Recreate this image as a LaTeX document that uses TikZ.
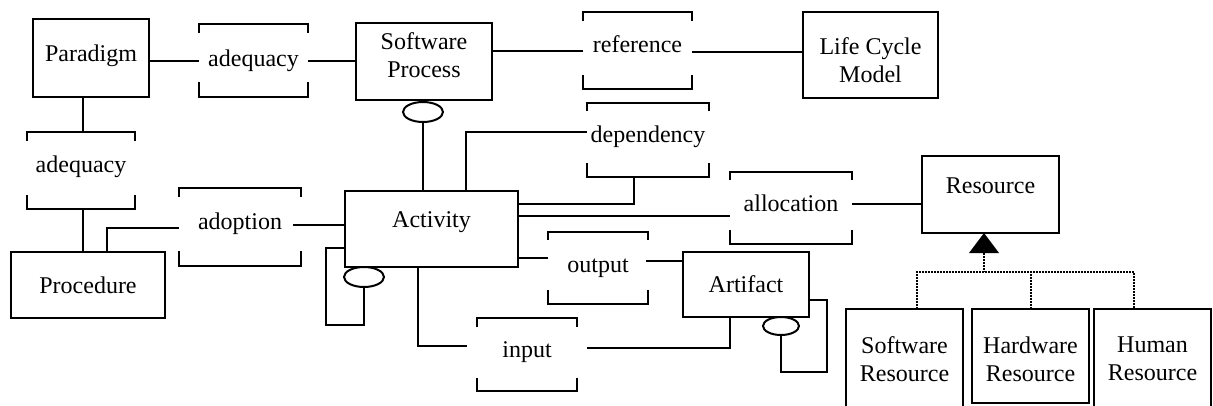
\documentclass[tikz,border=0pt]{standalone}
\usepackage{fontspec}
\setmainfont{Liberation Serif}
\usetikzlibrary{shapes.geometric}
\tikzset{
  box/.style={draw, line width=2pt, inner sep=0pt, outer sep=0pt, align=center,
    font=\fontsize{24}{28}\selectfont},
  rel/.style={inner sep=0pt, outer sep=0pt, align=center, font=\fontsize{24}{28}\selectfont},
  brk/.style={line width=2pt},
  con/.style={line width=2pt},
  ell/.style={draw, ellipse, line width=2pt, inner sep=0pt, outer sep=0pt, fill=white},
  dots/.style={line width=2pt, dash pattern=on 1.6pt off 1.4pt}
}
\newcommand\brk[3]{%
  \draw[brk] ([yshift=-#2pt]#1.north west) -- (#1.north west) -- (#1.north east) -- ([yshift=-#2pt]#1.north east);
  \draw[brk] ([yshift=#3pt]#1.south west) -- (#1.south west) -- (#1.south east) -- ([yshift=#3pt]#1.south east);}
\begin{document}
\begin{tikzpicture}[x=1pt,y=-1pt]
\useasboundingbox (0,0) rectangle (1213,405);
\clip (0,0) rectangle (1213,405);
% entity boxes
\node[box, minimum width=116pt, minimum height=78pt, text depth=10.4pt] (par) at (91,58) {Paradigm};
\node[box, minimum width=136pt, minimum height=77pt, text depth=13.4pt] (sp) at (424,61.5) {Software\\Process};
\node[box, minimum width=135pt, minimum height=86pt, text height=54.4pt] (lcm) at (870.5,55) {Life Cycle\\Model};
\node[box, minimum width=173pt, minimum height=76pt, text depth=18.4pt] (act) at (431.5,229) {Activity};
\node[box, minimum width=154pt, minimum height=66pt] (proc) at (88,285) {Procedure};
\node[box, minimum width=126pt, minimum height=65pt] (art) at (746,284.5) {Artifact};
\node[box, minimum width=137pt, minimum height=77pt, text depth=17pt] (res) at (990.5,194.5) {Resource};
\node[box, minimum width=117pt, minimum height=100pt] (swr) at (904.5,359) {Software\\Resource};
\node[box, minimum width=117pt, minimum height=94pt, text height=50.4pt] (hwr) at (1030.5,356) {Hardware\\Resource};
\node[box, minimum width=117pt, minimum height=100pt] (hur) at (1152.5,359) {Human\\Resource};
% relationship nodes
\node[rel, minimum width=109pt, minimum height=73pt] (adq1) at (253.5,60.5) {adequacy};
\node[rel, minimum width=108pt, minimum height=77pt, text depth=13pt] (adq2) at (81,170.5) {adequacy};
\node[rel, minimum width=109pt, minimum height=77pt, text depth=13.4pt] (ref) at (637.5,50.5) {reference};
\node[rel, minimum width=122pt, minimum height=74pt, text depth=11.8pt] (dep) at (648,140) {dependency};
\node[rel, minimum width=122pt, minimum height=72pt, text depth=9pt] (alloc) at (791,208) {allocation};
\node[rel, minimum width=122pt, minimum height=78pt, text depth=12.4pt] (adop) at (240,227) {adoption};
\node[rel, minimum width=100pt, minimum height=72pt] (out) at (598,268) {output};
\node[rel, minimum width=100pt, minimum height=73pt, text depth=10.8pt] (inp) at (527,354.5) {input};
\brk{adq1}{9}{15}
\brk{adq2}{9}{14}
\brk{ref}{9}{14}
\brk{dep}{8}{14}
\brk{alloc}{8}{14}
\brk{adop}{9}{15}
\brk{out}{8}{14}
\brk{inp}{9}{13}
% connectors
\draw[con] (adq1.west) -- (adq1.west -| par.east);
\draw[con] (adq1.east) -- (adq1.east -| sp.west);
\draw[con] (ref.west) -- (ref.west -| sp.east);
\draw[con] ([yshift=-1.5pt]ref.east) -- ([yshift=-1.5pt]ref.east -| lcm.west);
\draw[con] ([xshift=2pt]adq2.north) -- ([xshift=2pt]adq2.north |- par.south);
\draw[con] ([xshift=2pt]adq2.south) -- ([xshift=2pt]adq2.south |- proc.north);
\draw[con] ([yshift=-1pt]adop.west) -| ([xshift=19pt]proc.north);
\draw[con] ([xshift=-8pt,yshift=2pt]adop.east) -- ([yshift=2pt]adop.east -| act.west);
\draw[con] ([yshift=8pt]dep.west) -| ([xshift=34.5pt]act.north);
\draw[con] ([xshift=-14pt]dep.south) |- ([yshift=-13pt]act.north east);
\draw[con] ([yshift=-25pt]act.north east) -- ([yshift=-25pt]act.north east -| alloc.west);
\draw[con] ([yshift=4pt]alloc.east) -- ([yshift=4pt]alloc.east -| res.west);
\draw[con] ([yshift=10pt]out.west) -- ([yshift=10pt]out.west -| act.east);
\draw[con] ([xshift=-2pt,yshift=7pt]out.east) -- ([yshift=7pt]out.east -| art.west);
\draw[con] ([xshift=-13.5pt]act.south) |- ([xshift=-10pt,yshift=8.5pt]inp.west);
\draw[con] ([xshift=10pt,yshift=6.5pt]inp.east) -| ([xshift=-16pt]art.south);
% aggregation ellipses and loops
\node[ell, minimum width=40pt, minimum height=20pt] (spe) at (423,112) {};
\draw[con] (spe.south) -- (spe.south |- act.north);
\node[ell, minimum width=40pt, minimum height=20pt] (acte) at (364,277) {};
\coordinate (actloop) at (326,325);
\draw[con] (acte.south) |- (actloop) |- ([yshift=-19pt]act.west);
\node[ell, minimum width=36pt, minimum height=18pt] (arte) at (781,326) {};
\coordinate (artloop) at (827,372);
\draw[con] (arte.south) |- (artloop) |- ([yshift=-15.5pt]art.east);
% generalization
\coordinate (tb) at (984,253);
\coordinate (hub) at (984,272);
\fill ([xshift=-6.5pt]res.south) -- (969,253) -- (999,253) -- cycle;
\draw[dots] (tb) -- (hub);
\draw[dots] ([xshift=12.5pt]swr.north) |- ([xshift=-18.5pt]hur.north |- hub) -- ([xshift=-18.5pt]hur.north);
\draw[dots] (hwr.north) -- (hwr.north |- hub);
\end{tikzpicture}
\end{document}
